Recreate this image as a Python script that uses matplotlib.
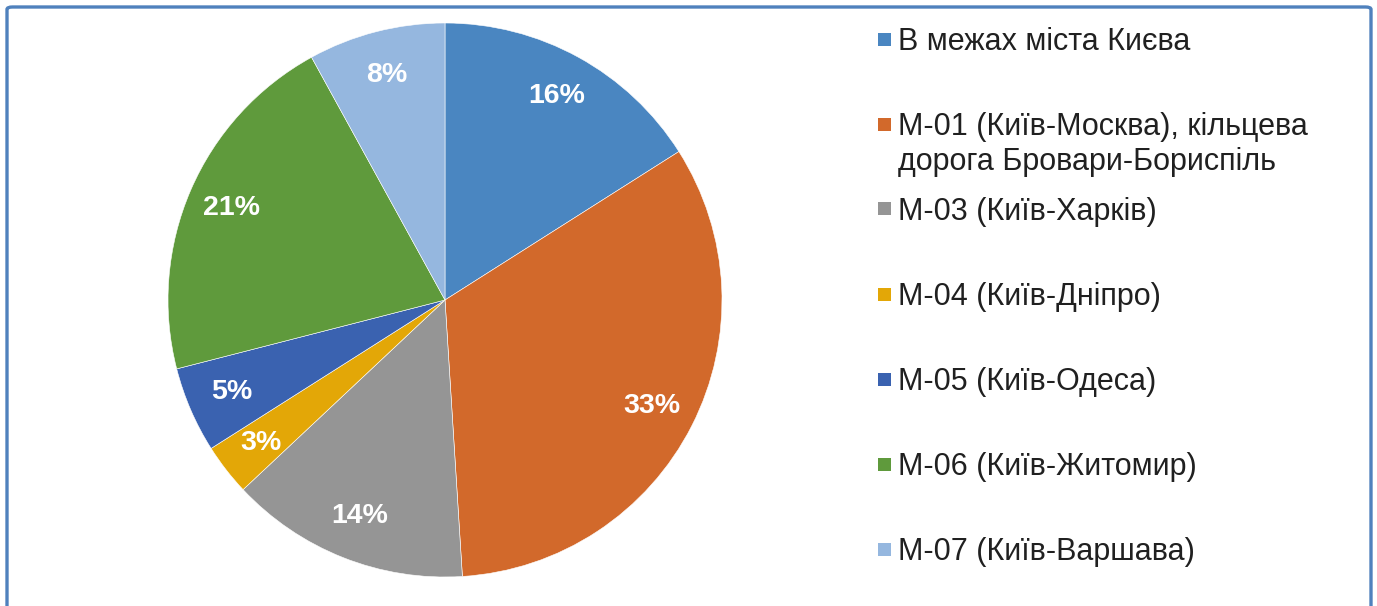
import matplotlib.pyplot as plt
import matplotlib.patches as mpatches

labels = ["В межах міста Києва",
          "М-01 (Київ-Москва), кільцева\nдорога Бровари-Бориспіль",
          "М-03 (Київ-Харків)",
          "М-04 (Київ-Дніпро)",
          "М-05 (Київ-Одеса)",
          "М-06 (Київ-Житомир)",
          "М-07 (Київ-Варшава)"]
shares = [16, 33, 14, 3, 5, 21, 8]
colors = ["#4A86C1", "#D2692B", "#959595", "#E3A707", "#3A62B0", "#5F9A3C", "#95B7DF"]

plt.rcParams['font.family'] = ['Liberation Sans', 'DejaVu Sans']

W, H = 1377, 606
fig = plt.figure(figsize=(W / 100, H / 100), dpi=100)

# pie centre ~(445, 300) px, radius ~277 px
cx, cy, r = 445, 300, 277
ax = fig.add_axes([(cx - r) / W, (H - cy - r) / H, 2 * r / W, 2 * r / H])
wedges, texts, autotexts = ax.pie(
    shares, colors=colors, startangle=90, counterclock=False,
    autopct='%d%%', pctdistance=0.84,
    wedgeprops=dict(edgecolor='white', linewidth=0.4))
for t in autotexts:
    t.set_color('white')
    t.set_fontsize(20.5)
    t.set_fontweight('bold')
ax.set_xlim(-1, 1)
ax.set_ylim(-1, 1)
ax.axis('off')

# legend drawn by hand, Excel style
y0, step, line_h = 39, 85, 35
for i, (lab, col) in enumerate(zip(labels, colors)):
    y = y0 + i * step
    fig.patches.append(mpatches.Rectangle(
        (878 / W, (H - y - 6.5) / H), 13 / W, 13 / H,
        transform=fig.transFigure, facecolor=col, edgecolor='none'))
    for k, line in enumerate(lab.split('\n')):
        fig.text(898 / W, (H - y - 11 - k * line_h) / H, line, fontsize=22,
                 color='#202020', va='baseline', ha='left')

# frame
fig.patches.append(mpatches.FancyBboxPatch(
    (7 / W, -0.05), 1364 / W, 1 - 7 / H + 0.05,
    boxstyle='round,pad=0,rounding_size=0.004',
    transform=fig.transFigure, facecolor='none', edgecolor='#4F81BD',
    linewidth=2.4, clip_on=False))

fig.savefig('out.png', dpi=100)
